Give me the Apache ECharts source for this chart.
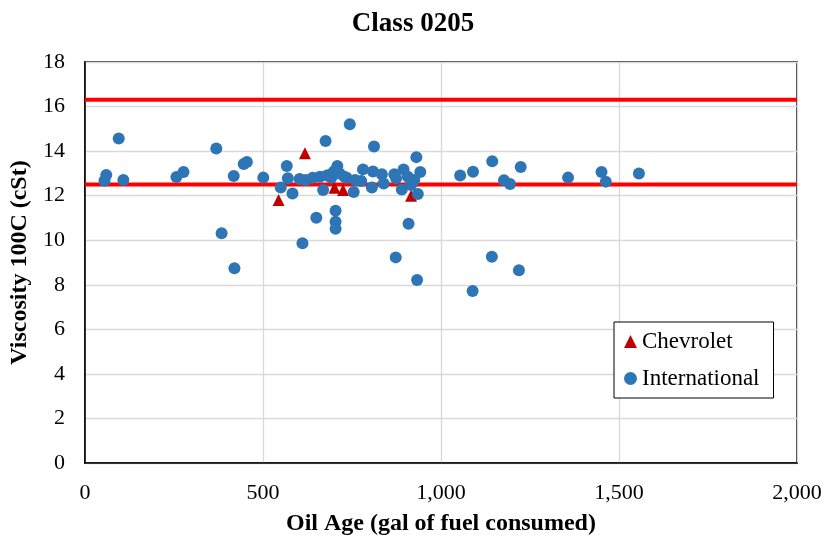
<!DOCTYPE html>
<html>
<head>
<meta charset="utf-8">
<script src="https://cdn.jsdelivr.net/npm/echarts@6/dist/echarts.min.js"></script>
<style>
  html, body { margin: 0; padding: 0; background: #fff; }
  #chart { width: 826px; height: 542px; }
</style>
</head>
<body>
<div id="chart"></div>
<script>
// Oil age (gal of fuel consumed) vs. viscosity at 100C (cSt)
const chevroletAge = [544, 618, 701, 725, 916];
const chevroletVisc = [11.8, 13.9, 12.35, 12.25, 12.0];

const internationalAge = [
  55, 60, 95, 108, 257, 277, 369, 384, 418, 420, 446, 455, 501,
  550, 567, 570, 583, 603, 611, 620, 640, 650, 660, 669, 676, 680, 690, 692,
  700, 704, 704, 704, 709, 715, 729, 735, 744, 755, 759, 776, 781, 806,
  809, 812, 834, 839, 869, 873, 874, 890, 895, 907, 909, 916, 925, 931,
  933, 935, 942, 1054, 1089, 1090, 1143, 1144, 1177, 1194, 1219, 1224,
  1357, 1451, 1463, 1556
];
const internationalVisc = [
  12.67, 12.93, 14.57, 12.7, 12.84, 13.06, 14.12, 10.31, 12.88, 8.74, 13.42, 13.51, 12.81,
  12.37, 13.33, 12.78, 12.1, 12.75, 9.86, 12.7, 12.8, 11.01, 12.85, 12.25, 14.45, 12.9, 12.95, 12.8,
  13.1, 11.32, 10.83, 10.52, 13.33, 13.0, 12.85, 12.8, 15.21, 12.16, 12.7, 12.66, 13.18, 12.37,
  13.08, 14.21, 12.96, 12.55, 12.96, 9.23, 12.78, 12.28, 13.18, 12.85, 10.74, 12.48, 12.7, 13.73,
  8.21, 12.07, 13.06, 12.91, 7.72, 13.07, 9.26, 13.54, 12.69, 12.52, 8.65, 13.29,
  12.81, 13.06, 12.63, 13.0
];

// Viscosity limits
const lowerLimit = 12.5;
const upperLimit = 16.3;
const xTicks = [0, 2000, 500];
const yTicks = [0, 18, 2];

const pairs = (xs, ys) => xs.map((x, i) => [x, ys[i]]);
const serif = '"Liberation Serif", "Times New Roman", serif';

const chart = echarts.init(document.getElementById('chart'), null, { renderer: 'canvas' });
chart.setOption({
  animation: false,
  title: {
    text: 'Class 0205',
    left: 'center',
    top: 6,
    textStyle: { fontFamily: serif, fontSize: 27, fontWeight: 'bold', color: '#000' }
  },
  grid: {
    left: 83, right: 29, top: 62, bottom: 79,
    show: true, borderColor: '#000', borderWidth: 1.5, backgroundColor: 'transparent'
  },
  legend: {
    data: ['Chevrolet', 'International'],
    orient: 'vertical',
    left: 614, top: 322,
    padding: [8, 14, 8, 10],
    itemGap: 14,
    itemWidth: 13, itemHeight: 13,
    borderColor: '#000', borderWidth: 1,
    backgroundColor: '#fff',
    textStyle: { fontFamily: serif, fontSize: 23, color: '#000' }
  },
  xAxis: {
    type: 'value',
    min: xTicks[0], max: xTicks[1], interval: xTicks[2],
    name: 'Oil Age (gal of fuel consumed)',
    nameLocation: 'middle', nameGap: 49,
    nameTextStyle: { fontFamily: serif, fontSize: 24, fontWeight: 'bold', color: '#000' },
    axisLine: { show: true, lineStyle: { color: '#000', width: 1.5 } },
    axisTick: { show: false },
    axisLabel: {
      fontFamily: serif, fontSize: 22, color: '#000', margin: 19,
      formatter: v => v.toLocaleString('en-US')
    },
    splitLine: { show: true, lineStyle: { color: '#d9d9d9', width: 1.3 } }
  },
  yAxis: {
    type: 'value',
    min: yTicks[0], max: yTicks[1], interval: yTicks[2],
    name: 'Viscosity 100C (cSt)',
    nameLocation: 'middle', nameGap: 50,
    nameTextStyle: { fontFamily: serif, fontSize: 24, fontWeight: 'bold', color: '#000' },
    axisLine: { show: true, lineStyle: { color: '#000', width: 1.5 } },
    axisTick: { show: false },
    axisLabel: { fontFamily: serif, fontSize: 22, color: '#000', margin: 20 },
    splitLine: { show: true, lineStyle: { color: '#d9d9d9', width: 1.3 } }
  },
  series: [
    {
      name: 'lower',
      type: 'line',
      data: [[xTicks[0], lowerLimit], [xTicks[1], lowerLimit]],
      symbol: 'none',
      lineStyle: { color: '#ff0000', width: 4 },
      z: 1,
      silent: true
    },
    {
      name: 'upper',
      type: 'line',
      data: [[xTicks[0], upperLimit], [xTicks[1], upperLimit]],
      symbol: 'none',
      lineStyle: { color: '#ff0000', width: 4 },
      z: 1,
      silent: true
    },
    {
      name: 'International',
      type: 'scatter',
      data: pairs(internationalAge, internationalVisc),
      symbol: 'circle',
      symbolSize: 12,
      itemStyle: { color: '#2e75b6', opacity: 1 },
      z: 3
    },
    {
      name: 'Chevrolet',
      type: 'scatter',
      data: pairs(chevroletAge, chevroletVisc),
      symbol: 'triangle',
      symbolSize: 12,
      itemStyle: { color: '#c00000', opacity: 1 },
      z: 2
    }
  ]
});
</script>
</body>
</html>
